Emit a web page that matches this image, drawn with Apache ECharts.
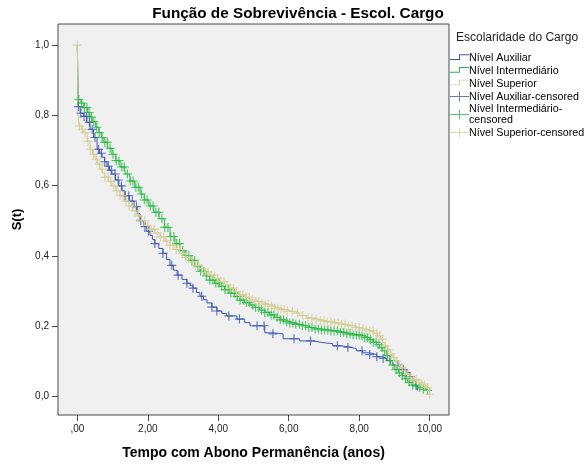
<!DOCTYPE html>
<html>
<head>
<meta charset="utf-8">
<script src="https://cdn.jsdelivr.net/npm/echarts@6/dist/echarts.min.js"></script>
<style>
  html, body { margin: 0; padding: 0; background: #ffffff; }
  #chart { width: 585px; height: 465px; }
</style>
</head>
<body>
<div id="chart"></div>
<script>
// Groups (Escolaridade do Cargo)
const groupNames = ['Nível Auxiliar', 'Nível Intermediário', 'Nível Superior'];
const censoredSuffix = '-censored';

// Axis ticks
const xTickValues = [0, 2, 4, 6, 8, 10];
const yTickValues = [0, 0.2, 0.4, 0.6, 0.8, 1.0];

// Kaplan-Meier survival estimates: [tempo (anos), S(t)]
const auxiliarSteps = [
  [0, 1], [0.02, 0.825], [0.08, 0.806], [0.18, 0.797], [0.27, 0.780], [0.36, 0.760],
  [0.46, 0.737], [0.56, 0.703], [0.63, 0.692], [0.70, 0.681], [0.77, 0.668], [0.84, 0.655],
  [0.91, 0.644], [0.98, 0.633], [1.08, 0.616], [1.18, 0.599], [1.27, 0.585], [1.35, 0.571],
  [1.48, 0.556], [1.61, 0.540], [1.70, 0.520], [1.78, 0.500], [1.89, 0.483], [1.97, 0.470],
  [2.06, 0.458], [2.13, 0.446], [2.20, 0.435], [2.31, 0.421], [2.43, 0.407], [2.53, 0.390],
  [2.63, 0.373], [2.73, 0.359], [2.83, 0.345], [2.97, 0.333], [3.11, 0.322], [3.20, 0.315],
  [3.28, 0.308], [3.38, 0.296], [3.48, 0.285], [3.58, 0.275], [3.68, 0.266], [3.82, 0.254],
  [3.96, 0.243], [4.10, 0.236], [4.24, 0.229], [4.53, 0.220], [4.75, 0.210], [4.90, 0.201],
  [5.32, 0.181], [5.55, 0.178], [5.84, 0.164], [6.31, 0.158], [6.68, 0.153], [6.97, 0.150],
  [7.25, 0.144], [7.50, 0.140], [7.73, 0.136], [7.92, 0.130], [8.10, 0.124], [8.30, 0.119],
  [8.50, 0.113], [8.65, 0.108], [8.78, 0.102], [8.95, 0.090], [9.15, 0.076], [9.35, 0.068],
  [9.45, 0.056], [9.52, 0.045], [9.60, 0.030], [9.66, 0.017]
];
const intermediarioSteps = [
  [0, 1], [0.02, 0.845], [0.10, 0.835], [0.18, 0.822], [0.28, 0.808], [0.35, 0.795],
  [0.42, 0.782], [0.52, 0.766], [0.61, 0.751], [0.68, 0.737], [0.75, 0.723], [0.86, 0.706],
  [0.98, 0.689], [1.09, 0.671], [1.21, 0.653], [1.35, 0.633], [1.49, 0.613], [1.63, 0.595],
  [1.78, 0.576], [1.90, 0.559], [2.03, 0.542], [2.17, 0.524], [2.32, 0.506], [2.47, 0.481],
  [2.63, 0.455], [2.77, 0.435], [2.91, 0.415], [3.05, 0.401], [3.20, 0.387], [3.34, 0.371],
  [3.48, 0.356], [3.62, 0.343], [3.76, 0.331], [3.90, 0.322], [4.04, 0.314], [4.18, 0.304],
  [4.33, 0.294], [4.47, 0.284], [4.61, 0.274], [4.75, 0.267], [4.90, 0.260], [5.04, 0.253],
  [5.18, 0.246], [5.32, 0.239], [5.46, 0.232], [5.60, 0.225], [5.75, 0.218], [5.89, 0.213],
  [6.03, 0.209], [6.17, 0.205], [6.31, 0.201], [6.50, 0.196], [6.68, 0.192], [6.92, 0.189],
  [7.16, 0.186], [7.40, 0.182], [7.65, 0.178], [7.83, 0.175], [8.01, 0.172], [8.15, 0.167],
  [8.30, 0.161], [8.40, 0.154], [8.50, 0.147], [8.58, 0.139], [8.67, 0.130], [8.77, 0.116],
  [8.87, 0.102], [8.94, 0.089], [9.01, 0.076], [9.11, 0.067], [9.21, 0.059], [9.30, 0.050],
  [9.38, 0.040], [9.50, 0.032], [9.63, 0.025], [9.80, 0.020], [9.94, 0.017]
];
const superiorSteps = [
  [0, 1], [0.02, 0.800], [0.05, 0.770], [0.12, 0.760], [0.18, 0.751], [0.28, 0.726],
  [0.36, 0.703], [0.43, 0.689], [0.50, 0.675], [0.57, 0.661], [0.64, 0.647], [0.71, 0.636],
  [0.78, 0.624], [0.88, 0.612], [0.98, 0.599], [1.09, 0.585], [1.21, 0.571], [1.34, 0.556],
  [1.47, 0.542], [1.58, 0.528], [1.69, 0.514], [1.80, 0.500], [1.92, 0.486], [2.06, 0.476],
  [2.20, 0.465], [2.35, 0.454], [2.49, 0.442], [2.63, 0.430], [2.77, 0.418], [2.91, 0.407],
  [3.05, 0.395], [3.20, 0.383], [3.34, 0.373], [3.48, 0.364], [3.62, 0.354], [3.76, 0.345],
  [3.90, 0.336], [4.04, 0.327], [4.18, 0.317], [4.33, 0.308], [4.47, 0.298], [4.61, 0.289],
  [4.75, 0.282], [4.90, 0.275], [5.04, 0.270], [5.18, 0.266], [5.32, 0.261], [5.46, 0.256],
  [5.60, 0.251], [5.75, 0.247], [5.93, 0.242], [6.12, 0.237], [6.31, 0.230], [6.51, 0.223],
  [6.70, 0.219], [6.88, 0.215], [7.07, 0.212], [7.25, 0.209], [7.45, 0.205], [7.65, 0.201],
  [7.83, 0.196], [8.01, 0.192], [8.15, 0.189], [8.30, 0.186], [8.41, 0.180], [8.52, 0.172],
  [8.60, 0.163], [8.67, 0.153], [8.74, 0.143], [8.81, 0.133], [8.88, 0.121], [8.95, 0.110],
  [9.02, 0.100], [9.09, 0.090], [9.16, 0.081], [9.24, 0.073], [9.33, 0.063], [9.43, 0.054],
  [9.53, 0.047], [9.63, 0.040], [9.72, 0.035], [9.80, 0.031], [9.90, 0.025], [10.00, 0.006]
];

// Censored observation times (anos)
const auxiliarCensoredTimes = [
  0.03, 0.10, 0.19, 0.26, 0.34, 0.42, 0.50, 0.60, 0.68, 0.78, 0.88, 0.96, 1.07, 1.16,
  1.25, 1.36, 1.46, 1.56, 1.68, 1.80, 1.92, 2.02, 2.20, 2.43, 2.68, 2.86, 3.11, 3.28,
  3.53, 3.82, 3.96, 4.30, 4.60, 5.10, 5.30, 5.55, 6.15, 6.62, 7.38, 7.68, 8.08, 8.30,
  8.50, 8.68, 8.88, 9.10, 9.25, 9.45, 9.62
];
const intermediarioCensoredTimes = [
  0.04, 0.12, 0.20, 0.27, 0.33, 0.40, 0.47, 0.55, 0.62, 0.70, 0.78, 0.85, 0.93, 1.01,
  1.10, 1.18, 1.26, 1.33, 1.42, 1.50, 1.58, 1.66, 1.74, 1.82, 1.90, 1.98, 2.07, 2.15,
  2.23, 2.31, 2.40, 2.48, 2.57, 2.65, 2.74, 2.82, 2.90, 2.99, 3.08, 3.16, 3.25, 3.33,
  3.42, 3.50, 3.59, 3.67, 3.76, 3.85, 3.93, 4.02, 4.10, 4.19, 4.28, 4.36, 4.45, 4.54,
  4.62, 4.71, 4.80, 4.88, 4.97, 5.06, 5.15, 5.23, 5.32, 5.41, 5.50, 5.58, 5.67, 5.76,
  5.85, 5.94, 6.03, 6.12, 6.20, 6.30, 6.39, 6.48, 6.57, 6.66, 6.75, 6.84, 6.93, 7.02,
  7.11, 7.20, 7.29, 7.38, 7.47, 7.56, 7.65, 7.74, 7.83, 7.92, 8.00, 8.08, 8.16, 8.24,
  8.32, 8.40, 8.48, 8.56, 8.64, 8.72, 8.80, 8.88, 8.96, 9.05, 9.14, 9.23, 9.32, 9.42,
  9.52, 9.62, 9.72, 9.82, 9.94
];
const superiorCensoredTimes = [
  0.00, 0.06, 0.14, 0.22, 0.30, 0.38, 0.46, 0.54, 0.62, 0.70, 0.78, 0.87, 0.95, 1.04,
  1.12, 1.21, 1.30, 1.38, 1.47, 1.56, 1.64, 1.73, 1.82, 1.91, 2.00, 2.09, 2.18, 2.27,
  2.36, 2.45, 2.54, 2.63, 2.72, 2.81, 2.90, 2.99, 3.08, 3.17, 3.26, 3.35, 3.44, 3.53,
  3.62, 3.71, 3.80, 3.89, 3.98, 4.07, 4.16, 4.25, 4.34, 4.43, 4.52, 4.61, 4.70, 4.79,
  4.88, 4.97, 5.06, 5.15, 5.24, 5.33, 5.42, 5.51, 5.60, 5.69, 5.78, 5.87, 5.96, 6.10,
  6.25, 6.40, 6.55, 6.66, 6.78, 6.90, 7.00, 7.10, 7.20, 7.30, 7.40, 7.50, 7.60, 7.70,
  7.80, 7.90, 8.00, 8.10, 8.20, 8.30, 8.40, 8.50, 8.58, 8.66, 8.74, 8.82, 8.90, 8.98,
  9.06, 9.14, 9.22, 9.30, 9.38, 9.46, 9.54, 9.62, 9.70, 9.78, 9.86, 9.94, 10.00
];

const groupColors = ['#3e58ac', '#2eb848', '#d3ce97'];

// S(t) of a step curve at time t (value of the last step at or before t)
function survivalAt(steps, t) {
  let s = steps[0][1];
  for (const [time, value] of steps) {
    if (time <= t + 1e-9) s = value; else break;
  }
  return s;
}

const stepsByGroup = [auxiliarSteps, intermediarioSteps, superiorSteps];
const censoredByGroup = [auxiliarCensoredTimes, intermediarioCensoredTimes, superiorCensoredTimes];

// Marker and legend glyphs (20x10 icon box; zero-length segments pin the box corners)
const plusSymbol = 'path://M0,4.35H10V5.65H0Z M4.35,0H5.65V10H4.35Z';
const stepIcon = 'path://M0,0L0.01,0Z M0,10L0.01,10Z M0,5.5H9.5V0.5H20V1.5H10.5V6.5H0Z';
const plusIcon = 'path://M0,4.5H19V5.5H0Z M9,0H10V10H9Z';

const lineSeries = groupNames.map((name, i) => ({
  name: name,
  type: 'line',
  step: 'end',
  data: stepsByGroup[i],
  showSymbol: false,
  symbol: 'none',
  color: groupColors[i],
  lineStyle: { width: 1, color: groupColors[i] },
  silent: true,
  animation: false,
  z: 2
}));

const censorSeries = groupNames.map((name, i) => ({
  name: name + censoredSuffix,
  type: 'scatter',
  data: censoredByGroup[i].map(t => [t, survivalAt(stepsByGroup[i], t)]),
  symbol: plusSymbol,
  symbolSize: 9,
  color: groupColors[i],
  itemStyle: { color: groupColors[i] },
  silent: true,
  animation: false,
  z: 3
}));

const legendItems = [
  ...groupNames.map(n => ({ name: n, icon: stepIcon })),
  ...groupNames.map(n => ({ name: n + censoredSuffix, icon: plusIcon }))
];

const chart = echarts.init(document.getElementById('chart'), null, { renderer: 'canvas' });
chart.setOption({
  animation: false,
  backgroundColor: '#ffffff',
  textStyle: { fontFamily: 'Liberation Sans, Arial, sans-serif' },
  title: [
    {
      text: 'Função de Sobrevivência - Escol. Cargo',
      left: 298, top: 6, padding: 0, textAlign: 'center',
      textStyle: { fontSize: 15.3, fontWeight: 'bold', color: '#000', fontFamily: 'Liberation Sans' }
    },
    {
      text: 'Escolaridade do Cargo',
      left: 456, top: 32, padding: 0,
      textStyle: { fontSize: 12, fontWeight: 'normal', color: '#222', fontFamily: 'Liberation Sans' }
    }
  ],
  legend: {
    orient: 'vertical',
    left: 450, top: 53,
    padding: 0,
    itemWidth: 19, itemHeight: 10, itemGap: 1.7,
    selectedMode: false,
    textStyle: { fontSize: 10.7, color: '#000', fontFamily: 'Liberation Sans', lineHeight: 10.6, padding: [0, 0, 0, -5] },
    formatter: name => name === 'Nível Intermediário-censored' ? 'Nível Intermediário-\ncensored' : name,
    data: legendItems
  },
  grid: {
    left: 58, right: 136, top: 24, bottom: 47,
    show: true, backgroundColor: '#f0f0f0', borderColor: '#4a4a4a', borderWidth: 1
  },
  xAxis: {
    type: 'value',
    min: -0.55, max: 10.55,
    name: 'Tempo com Abono Permanência (anos)',
    nameLocation: 'middle', nameGap: 31,
    nameTextStyle: { fontSize: 14, fontWeight: 'bold', color: '#000' },
    axisLine: { show: false, onZero: false },
    axisTick: { show: true, length: 6, customValues: xTickValues, lineStyle: { color: '#4a4a4a' } },
    axisLabel: {
      customValues: xTickValues, margin: 9, fontSize: 10, color: '#222',
      formatter: v => v === 0 ? ',00' : v.toFixed(2).replace('.', ',')
    },
    splitLine: { show: false }
  },
  yAxis: {
    type: 'value',
    min: -0.053, max: 1.06,
    name: 'S(t)',
    nameLocation: 'middle', nameGap: 30, nameRotate: 90,
    nameTextStyle: { fontSize: 13, fontWeight: 'bold', color: '#000' },
    axisLine: { show: false, onZero: false },
    axisTick: { show: true, length: 6, customValues: yTickValues, lineStyle: { color: '#4a4a4a' } },
    axisLabel: {
      customValues: yTickValues, margin: 9, fontSize: 10, color: '#222',
      formatter: v => v.toFixed(1).replace('.', ',')
    },
    splitLine: { show: false }
  },
  series: [...lineSeries, ...censorSeries]
});
</script>
</body>
</html>
